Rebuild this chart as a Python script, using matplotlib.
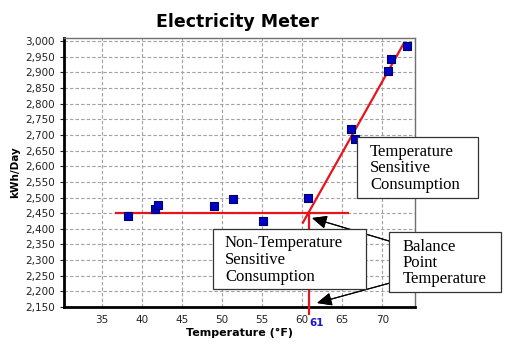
import matplotlib.pyplot as plt
from matplotlib.patches import Rectangle
from matplotlib.ticker import FuncFormatter

# daily readings
temps = [38.3, 41.6, 42.0, 49.0, 51.4, 55.1, 60.7, 66.1, 66.6, 70.7, 71.1, 73.1]
kwh = [2440, 2462, 2477, 2473, 2496, 2424, 2499, 2719, 2688, 2905, 2943, 2985]

# fitted lines
base_x = [36.8, 65.7]
base_y = [2450, 2450]
slope_x = [60.1, 72.7]
slope_y = [2420, 2993]
balance_t = 60.8
balance_kwh = 2450

xticks = [35, 40, 45, 50, 55, 60, 65, 70]
yticks = list(range(2150, 3001, 50))

W, H = 516, 350
fig = plt.figure(figsize=(W / 100, H / 100), dpi=100)
ax = fig.add_axes([64 / W, 1 - 307 / H, 351 / W, 269 / H])

red = '#e8141c'
ax.plot(base_x, base_y, color=red, lw=1.6, zorder=3)
ax.plot(slope_x, slope_y, color=red, lw=1.6, zorder=3)
ax.plot([balance_t, balance_t], [balance_kwh, 2128], color=red, lw=1.6,
        zorder=3, clip_on=False)
ax.scatter(temps, kwh, marker='s', s=30, color='#0000c8', edgecolors='#000060',
           linewidths=0.8, zorder=4)

ax.set_xlim(30.25, 74.1)
ax.set_ylim(2150, 3010)
ax.set_xticks(xticks)
ax.set_yticks(yticks)
ax.yaxis.set_major_formatter(FuncFormatter(lambda v, p: f'{int(v):,}'))
ax.tick_params(axis='both', labelsize=7.5, colors='#222222', length=3, width=0.8)
ax.tick_params(axis='x', length=0, pad=6)
ax.grid(True, color='#a0a0a0', linestyle=(0, (3, 2)), lw=0.8)
ax.set_axisbelow(True)
for s in ['left', 'bottom']:
    ax.spines[s].set_linewidth(2)
    ax.spines[s].set_color('black')
for s in ['top', 'right']:
    ax.spines[s].set_linewidth(1)
    ax.spines[s].set_color('#707070')

ax.text(balance_t + 1.0, -0.04, '61', color='#1a1acc', fontsize=7.5, fontweight='bold',
        ha='center', va='top', transform=ax.get_xaxis_transform())

ax.set_xlabel('Temperature (°F)', fontsize=8, fontweight='bold', labelpad=2)
ax.set_ylabel('kWh/Day', fontsize=7.5, fontweight='bold', labelpad=4)
fig.text(237 / W, 1 - 22 / H, 'Electricity Meter', fontsize=12.5,
         fontweight='bold', ha='center', va='center')


def note_box(x0, y0, x1, y1, tx, lines_y, lines):
    fig.add_artist(Rectangle((x0 / W, 1 - y1 / H), (x1 - x0) / W, (y1 - y0) / H,
                             transform=fig.transFigure, fc='white', ec='#333333',
                             lw=0.9, zorder=5))
    for ly, t in zip(lines_y, lines):
        fig.text(tx / W, 1 - ly / H, t, family='Liberation Serif', fontsize=12,
                 ha='left', va='center', zorder=6)


note_box(357, 137, 478, 198, 370, [152, 168, 185],
         ['Temperature', 'Sensitive', 'Consumption'])
note_box(213, 229, 366, 289, 225, [243, 260, 277],
         ['Non-Temperature', 'Sensitive', 'Consumption'])
note_box(389, 232, 501, 292, 403, [247, 263, 279],
         ['Balance', 'Point', 'Temperature'])

arrow = dict(arrowstyle='-|>,head_length=0.9,head_width=0.4', color='black', lw=0.8,
             shrinkA=0, shrinkB=0)
for start, tip in [((389, 241), (312, 218)), ((390, 283), (317, 303))]:
    fig.add_artist(plt.annotate('', xy=(tip[0] / W, 1 - tip[1] / H), xycoords='figure fraction',
                                xytext=(start[0] / W, 1 - start[1] / H),
                                textcoords='figure fraction', arrowprops=arrow))

fig.savefig('out.png', dpi=100)
